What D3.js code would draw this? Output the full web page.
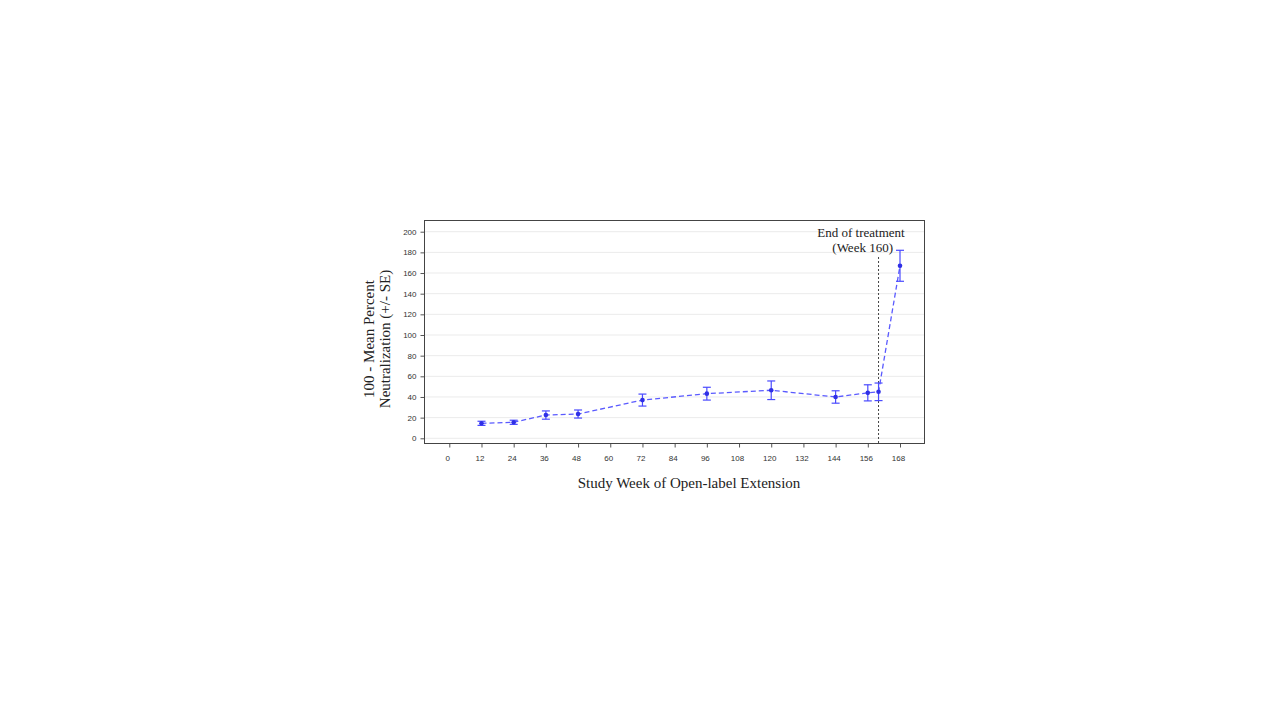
<!DOCTYPE html>
<html>
<head>
<meta charset="utf-8">
<script src="https://cdn.jsdelivr.net/npm/d3@7"></script>
<style>
  body { margin: 0; background: #fff; }
  svg text { fill: #222; }
</style>
</head>
<body>
<div id="chart"></div>
<script>
// study weeks and values
var weeks  = [12, 24, 36, 48, 72, 96, 120, 144, 156, 160, 168];
var means  = [14.5, 15.5, 22.5, 23.5, 37, 43.2, 46.5, 40, 44, 45, 167];
var errors = [2, 2, 4, 3.9, 5.8, 6.2, 9, 6, 7.8, 8.5, 15];
var xTicks = [0, 12, 24, 36, 48, 60, 72, 84, 96, 108, 120, 132, 144, 156, 168];
var yTicks = [0, 20, 40, 60, 80, 100, 120, 140, 160, 180, 200];
var endWeek = 160;

var data = weeks.map(function(w, i) { return {week: w, mean: means[i], se: errors[i]}; });

var svg = d3.select("#chart").append("svg")
    .attr("width", 1280)
    .attr("height", 720);

// plot frame
var frame = {left: 424.5, top: 220.5, right: 924.5, bottom: 443.5};

var x = d3.scaleLinear().domain([0, 168]).range([449.3, 900]);
var y = d3.scaleLinear().domain([0, 200]).range([438.3, 231.7]);

// gridlines
svg.append("g")
    .selectAll("line")
    .data(yTicks)
    .enter().append("line")
    .attr("x1", frame.left)
    .attr("x2", frame.right)
    .attr("y1", function(d) { return y(d); })
    .attr("y2", function(d) { return y(d); })
    .attr("stroke", "#ebebeb")
    .attr("stroke-width", 1);

// y axis, ticks outside the frame
svg.append("g")
    .attr("transform", "translate(" + frame.left + ",0)")
    .call(d3.axisLeft(y).tickValues(yTicks).tickSize(4).tickPadding(4))
    .call(function(g) { g.select(".domain").remove(); })
    .call(function(g) {
        g.selectAll("line").attr("stroke", "#555");
        g.selectAll("text").attr("font-family", "'Liberation Sans', Arial, sans-serif")
            .attr("font-size", 8).style("fill", "#333");
    });

// x axis
svg.append("g")
    .attr("transform", "translate(0," + frame.bottom + ")")
    .call(d3.axisBottom(x).tickValues(xTicks).tickSize(4).tickPadding(8))
    .call(function(g) { g.select(".domain").remove(); })
    .call(function(g) {
        g.selectAll("line").attr("stroke", "#555");
        g.selectAll("text").attr("font-family", "'Liberation Sans', Arial, sans-serif")
            .attr("font-size", 8).attr("dx", -2).style("fill", "#333");
    });

svg.append("rect")
    .attr("x", frame.left)
    .attr("y", frame.top)
    .attr("width", frame.right - frame.left)
    .attr("height", frame.bottom - frame.top)
    .attr("fill", "none")
    .attr("stroke", "#444")
    .attr("stroke-width", 1);

// end of treatment marker
svg.append("line")
    .attr("x1", x(endWeek))
    .attr("x2", x(endWeek))
    .attr("y1", 257)
    .attr("y2", frame.bottom)
    .attr("stroke", "#444")
    .attr("stroke-width", 1)
    .attr("stroke-dasharray", "2,2");

svg.append("text")
    .attr("x", 861)
    .attr("y", 237)
    .attr("text-anchor", "middle")
    .attr("font-family", "'Liberation Serif', 'Times New Roman', serif")
    .attr("font-size", 13)
    .text("End of treatment");

svg.append("text")
    .attr("x", 893)
    .attr("y", 252)
    .attr("text-anchor", "end")
    .attr("font-family", "'Liberation Serif', 'Times New Roman', serif")
    .attr("font-size", 13)
    .text("(Week 160)");

var blue = "#4a4aff";

// dashed mean line
var line = d3.line()
    .x(function(d) { return x(d.week); })
    .y(function(d) { return y(d.mean); });

svg.append("path")
    .datum(data)
    .attr("d", line)
    .attr("fill", "none")
    .attr("stroke", "#5a5aff")
    .attr("stroke-width", 1.3)
    .attr("stroke-dasharray", "5,3");

// error bars
var bars = svg.append("g").selectAll("g")
    .data(data)
    .enter().append("g")
    .attr("stroke", blue)
    .attr("stroke-width", 1.2);

bars.append("line")
    .attr("x1", function(d) { return x(d.week); })
    .attr("x2", function(d) { return x(d.week); })
    .attr("y1", function(d) { return y(d.mean + d.se); })
    .attr("y2", function(d) { return y(d.mean - d.se); });

bars.append("line")
    .attr("x1", function(d) { return x(d.week) - 4; })
    .attr("x2", function(d) { return x(d.week) + 4; })
    .attr("y1", function(d) { return y(d.mean + d.se); })
    .attr("y2", function(d) { return y(d.mean + d.se); });

bars.append("line")
    .attr("x1", function(d) { return x(d.week) - 4; })
    .attr("x2", function(d) { return x(d.week) + 4; })
    .attr("y1", function(d) { return y(d.mean - d.se); })
    .attr("y2", function(d) { return y(d.mean - d.se); });

svg.append("g").selectAll("circle")
    .data(data)
    .enter().append("circle")
    .attr("cx", function(d) { return x(d.week); })
    .attr("cy", function(d) { return y(d.mean); })
    .attr("r", 2.3)
    .attr("fill", "#2f2fe6");

// axis titles
svg.append("text")
    .attr("x", 689)
    .attr("y", 488)
    .attr("text-anchor", "middle")
    .attr("font-family", "'Liberation Serif', 'Times New Roman', serif")
    .attr("font-size", 15)
    .text("Study Week of Open-label Extension");

svg.append("text")
    .attr("transform", "translate(374,339) rotate(-90)")
    .attr("text-anchor", "middle")
    .attr("font-family", "'Liberation Serif', 'Times New Roman', serif")
    .attr("font-size", 15)
    .text("100 - Mean Percent");

svg.append("text")
    .attr("transform", "translate(390,339) rotate(-90)")
    .attr("text-anchor", "middle")
    .attr("font-family", "'Liberation Serif', 'Times New Roman', serif")
    .attr("font-size", 15)
    .text("Neutralization (+/- SE)");
</script>
</body>
</html>
